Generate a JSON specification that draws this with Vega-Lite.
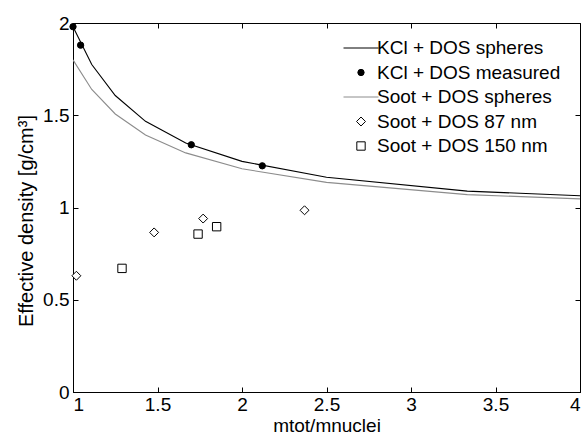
{
  "$schema": "https://vega.github.io/schema/vega-lite/v6.json",
  "autosize": "none",
  "width": 507,
  "height": 369,
  "padding": {"left": 73, "top": 23, "right": 4, "bottom": 42},
  "background": "white",
  "config": {
    "view": {"stroke": "black", "strokeWidth": 1},
    "font": "Liberation Sans",
    "axis": {
      "grid": false,
      "domainColor": "black",
      "domainWidth": 1,
      "tickColor": "black",
      "tickWidth": 1,
      "tickSize": -5,
      "labelFont": "Liberation Sans",
      "labelFontSize": 19,
      "labelColor": "black",
      "titleFont": "Liberation Sans",
      "titleFontSize": 19,
      "titleFontWeight": "normal",
      "titleColor": "black"
    },
    "legend": {
      "labelFont": "Liberation Sans",
      "labelFontSize": 19,
      "labelColor": "black",
      "labelLimit": 0
    }
  },
  "data": {
    "values": [
      {"x": 1.0, "y": 1.98, "series": "KCl + DOS spheres"},
      {"x": 1.111, "y": 1.775, "series": "KCl + DOS spheres"},
      {"x": 1.25, "y": 1.607, "series": "KCl + DOS spheres"},
      {"x": 1.429, "y": 1.467, "series": "KCl + DOS spheres"},
      {"x": 1.667, "y": 1.35, "series": "KCl + DOS spheres"},
      {"x": 2.0, "y": 1.25, "series": "KCl + DOS spheres"},
      {"x": 2.5, "y": 1.164, "series": "KCl + DOS spheres"},
      {"x": 3.333, "y": 1.089, "series": "KCl + DOS spheres"},
      {"x": 5.0, "y": 1.025, "series": "KCl + DOS spheres"},
      {"x": 1.0, "y": 1.8, "series": "Soot + DOS spheres"},
      {"x": 1.111, "y": 1.64, "series": "Soot + DOS spheres"},
      {"x": 1.25, "y": 1.507, "series": "Soot + DOS spheres"},
      {"x": 1.429, "y": 1.393, "series": "Soot + DOS spheres"},
      {"x": 1.667, "y": 1.296, "series": "Soot + DOS spheres"},
      {"x": 2.0, "y": 1.21, "series": "Soot + DOS spheres"},
      {"x": 2.5, "y": 1.136, "series": "Soot + DOS spheres"},
      {"x": 3.333, "y": 1.07, "series": "Soot + DOS spheres"},
      {"x": 5.0, "y": 1.012, "series": "Soot + DOS spheres"},
      {"x": 1.0, "y": 1.98, "series": "KCl + DOS measured"},
      {"x": 1.045, "y": 1.88, "series": "KCl + DOS measured"},
      {"x": 1.7, "y": 1.34, "series": "KCl + DOS measured"},
      {"x": 2.12, "y": 1.226, "series": "KCl + DOS measured"},
      {"x": 1.02, "y": 0.63, "series": "Soot + DOS 87 nm"},
      {"x": 1.48, "y": 0.865, "series": "Soot + DOS 87 nm"},
      {"x": 1.77, "y": 0.94, "series": "Soot + DOS 87 nm"},
      {"x": 2.37, "y": 0.985, "series": "Soot + DOS 87 nm"},
      {"x": 1.29, "y": 0.67, "series": "Soot + DOS 150 nm"},
      {"x": 1.74, "y": 0.856, "series": "Soot + DOS 150 nm"},
      {"x": 1.85, "y": 0.896, "series": "Soot + DOS 150 nm"}
    ]
  },
  "encoding": {
    "x": {"field": "x", "type": "quantitative",
      "scale": {"domain": [1, 4], "nice": false, "zero": false},
      "axis": {"orient": "bottom", "title": "mtot/mnuclei", "values": [1, 1.5, 2, 2.5, 3, 3.5, 4], "format": "~g", "labelPadding": 8, "titleBaseline": "alphabetic", "titleY": 39}},
    "y": {"field": "y", "type": "quantitative",
      "scale": {"domain": [0, 2], "nice": false, "zero": false},
      "axis": {"orient": "left", "title": "Effective density [g/cm³]", "titleFontSize": 20, "titleY": 197.5, "values": [0, 0.5, 1, 1.5, 2], "format": "~g", "labelPadding": 9, "titlePadding": 6}},
    "stroke": {"field": "series", "type": "nominal",
      "scale": {
        "domain": ["KCl + DOS spheres", "KCl + DOS measured", "Soot + DOS spheres", "Soot + DOS 87 nm", "Soot + DOS 150 nm"],
        "range": ["black", "black", "#8c8c8c", "black", "black"]
      },
      "legend": {
        "title": null,
        "orient": "none",
        "legendX": 270,
        "legendY": 15,
        "symbolSize": 1225,
        "symbolStrokeWidth": 1,
        "labelOffset": -2,
        "clipHeight": 20,
        "rowPadding": 4.5,
        "encode": {
          "symbols": {
            "update": {
              "size": {"signal": "indexof(datum.value, 'spheres') >= 0 ? 1225 : (indexof(datum.value, 'measured') >= 0 ? 25 : (indexof(datum.value, '87') >= 0 ? 56 : 49))"}
            }
          }
        }
      }
    }
  },
  "layer": [
    {
      "transform": [{"filter": "indexof(datum.series, 'spheres') >= 0"}],
      "mark": {"type": "line", "strokeWidth": 1.1, "clip": true},
      "encoding": {
        "x": {"field": "x", "type": "quantitative",
          "scale": {"domain": [1, 4], "nice": false, "zero": false},
          "axis": {"orient": "top", "labels": false, "title": null, "domain": false, "values": [1, 1.5, 2, 2.5, 3, 3.5, 4]}},
        "y": {"field": "y", "type": "quantitative",
          "scale": {"domain": [0, 2], "nice": false, "zero": false},
          "axis": {"orient": "right", "labels": false, "title": null, "domain": false, "values": [0, 0.5, 1, 1.5, 2]}}
      }
    },
    {
      "transform": [{"filter": "indexof(datum.series, 'spheres') < 0"}],
      "mark": {"type": "point", "strokeWidth": 1, "opacity": 1},
      "encoding": {
        "shape": {"field": "series", "type": "nominal",
          "scale": {
            "domain": ["KCl + DOS spheres", "KCl + DOS measured", "Soot + DOS spheres", "Soot + DOS 87 nm", "Soot + DOS 150 nm"],
            "range": ["stroke", "circle", "stroke", "diamond", "square"]
          }},
        "fill": {"field": "series", "type": "nominal",
          "scale": {
            "domain": ["KCl + DOS spheres", "KCl + DOS measured", "Soot + DOS spheres", "Soot + DOS 87 nm", "Soot + DOS 150 nm"],
            "range": ["transparent", "black", "transparent", "white", "white"]
          }},
        "size": {"field": "series", "type": "nominal",
          "scale": {
            "type": "ordinal",
            "domain": ["KCl + DOS spheres", "KCl + DOS measured", "Soot + DOS spheres", "Soot + DOS 87 nm", "Soot + DOS 150 nm"],
            "range": [1225, 40, 1225, 80, 70]
          },
          "legend": null}
      }
    }
  ]
}
